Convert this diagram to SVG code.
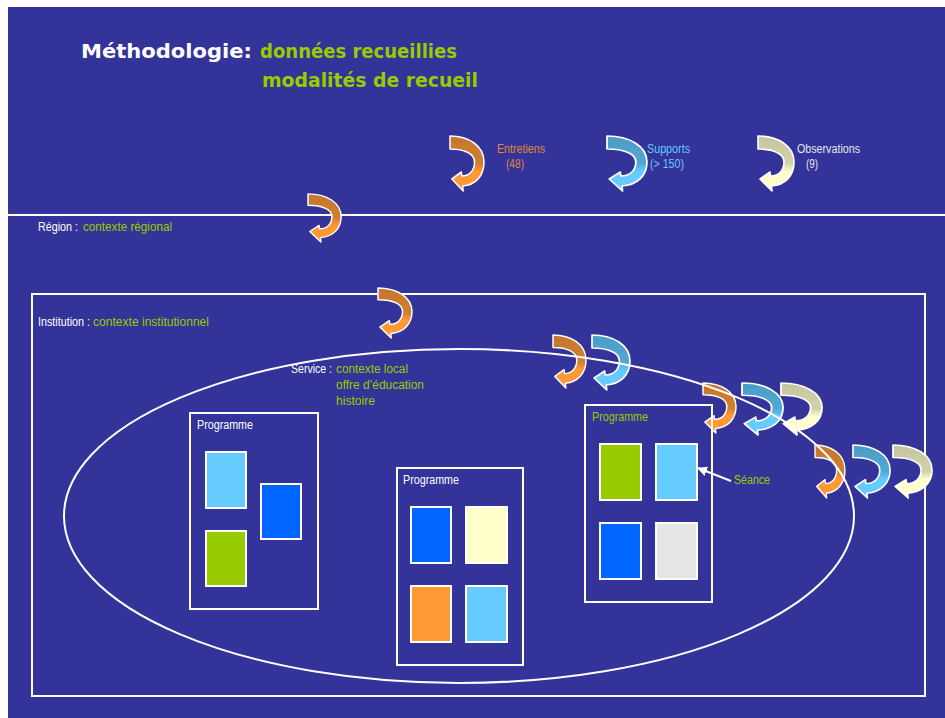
<svg xmlns="http://www.w3.org/2000/svg" xmlns:xlink="http://www.w3.org/1999/xlink" width="945" height="718" viewBox="0 0 945 718">
<style>
.t{font-family:"Liberation Sans",Arial,sans-serif;font-size:12.5px}
.w{fill:#ffffff}
.g{fill:#99cc00}
.title{font-family:"DejaVu Sans",Verdana,sans-serif;font-weight:bold;font-size:20px}
.box{fill:none;stroke:#ffffff;stroke-width:2}
.card{stroke:#ffffff;stroke-width:2}
.ln{fill:none;stroke:#ffffff;stroke-width:2}
.arr{stroke:#ffffff;stroke-width:1.6;stroke-linejoin:round}
</style>
<defs>
<linearGradient id="gO" x1="0" y1="0" x2="0" y2="1">
<stop offset="0" stop-color="#c4772d"/><stop offset="0.5" stop-color="#d07f2e"/><stop offset="0.65" stop-color="#ff9933"/><stop offset="1" stop-color="#ff9933"/>
</linearGradient>
<linearGradient id="gB" x1="0" y1="0" x2="0" y2="1">
<stop offset="0" stop-color="#4b9cc4"/><stop offset="0.5" stop-color="#52a8d3"/><stop offset="0.65" stop-color="#66ccff"/><stop offset="1" stop-color="#66ccff"/>
</linearGradient>
<linearGradient id="gC" x1="0" y1="0" x2="0" y2="1">
<stop offset="0" stop-color="#c4c4a0"/><stop offset="0.5" stop-color="#d2d2aa"/><stop offset="0.65" stop-color="#ffffcc"/><stop offset="1" stop-color="#ffffcc"/>
</linearGradient>
<path id="ca" d="M0 1 C20 1 36 11 36 27 C36 41 27 50 13.5 51 L14 56 L2 44 L12 37 L12.5 41 C21 41 26 35 26 27 C26 19 16 14 0 14 Z"/>
<marker id="mh" viewBox="0 0 10 10" refX="9" refY="5" markerWidth="10" markerHeight="10" markerUnits="userSpaceOnUse" orient="auto">
<path d="M0 0 L10 5 L0 10 Z" fill="#ffffff"/>
</marker>
</defs>

<rect x="8" y="7" width="937" height="711" fill="#333399"/>
<line x1="8" y1="215" x2="945" y2="215" stroke="#ffffff" stroke-width="2"/>

<g id="title">
<text class="title w" x="81" y="58" textLength="171" lengthAdjust="spacingAndGlyphs">Méthodologie:</text>
<text class="title g" x="260" y="58" textLength="197" lengthAdjust="spacingAndGlyphs">données recueillies</text>
<text class="title g" x="262" y="87" textLength="216" lengthAdjust="spacingAndGlyphs">modalités de recueil</text>
</g>

<g id="legend">
<use href="#ca" class="arr" fill="url(#gO)" transform="translate(450 135) scale(0.944 1)"/>
<text class="t" fill="#e0883a" x="497" y="153" textLength="48" lengthAdjust="spacingAndGlyphs">Entretiens</text>
<text class="t" fill="#e0883a" x="506" y="168" textLength="18" lengthAdjust="spacingAndGlyphs">(48)</text>
<use href="#ca" class="arr" fill="url(#gB)" transform="translate(607 135) scale(1.11 1)"/>
<text class="t" fill="#66ccff" x="647" y="153" textLength="43" lengthAdjust="spacingAndGlyphs">Supports</text>
<text class="t" fill="#66ccff" x="650" y="168" textLength="34" lengthAdjust="spacingAndGlyphs">(&gt; 150)</text>
<use href="#ca" class="arr" fill="url(#gC)" transform="translate(758 135) scale(1 1)"/>
<text class="t" fill="#e6e6e6" x="797" y="153" textLength="63" lengthAdjust="spacingAndGlyphs">Observations</text>
<text class="t" fill="#e6e6e6" x="806" y="168" textLength="12" lengthAdjust="spacingAndGlyphs">(9)</text>
</g>

<g id="region">
<text class="t w" x="38" y="231" textLength="40" lengthAdjust="spacingAndGlyphs">Région :</text>
<text class="t g" x="83" y="231" textLength="89" lengthAdjust="spacingAndGlyphs">contexte régional</text>
<use href="#ca" class="arr" fill="url(#gO)" transform="translate(308 193) scale(0.92 0.875)"/>
</g>

<g id="institution">
<rect class="box" x="32" y="294" width="893" height="402"/>
<text class="t w" x="38" y="326" textLength="52" lengthAdjust="spacingAndGlyphs">Institution :</text>
<text class="t g" x="93" y="326" textLength="116" lengthAdjust="spacingAndGlyphs">contexte institutionnel</text>
<use href="#ca" class="arr" fill="url(#gO)" transform="translate(378 287) scale(0.944 0.91)"/>
</g>

<g id="service-arrows">
<use href="#ca" class="arr" fill="url(#gO)" transform="translate(553 334) scale(0.917 0.964)"/>
<use href="#ca" class="arr" fill="url(#gB)" transform="translate(592 334) scale(1.055 1)"/>
<use href="#ca" class="arr" fill="url(#gO)" transform="translate(703 382) scale(0.917 0.91)"/>
<use href="#ca" class="arr" fill="url(#gB)" transform="translate(742 382) scale(1.14 0.946)"/>
<use href="#ca" class="arr" fill="url(#gC)" transform="translate(781 382) scale(1.14 0.946)"/>
<use href="#ca" class="arr" fill="url(#gO)" transform="translate(815 444) scale(0.833 0.964)"/>
<use href="#ca" class="arr" fill="url(#gB)" transform="translate(853 444) scale(1.03 0.964)"/>
<use href="#ca" class="arr" fill="url(#gC)" transform="translate(893 444) scale(1.083 0.964)"/>
</g>

<g id="service">
<ellipse class="ln" cx="459" cy="516" rx="395" ry="167"/>
<text class="t w" x="291" y="373" textLength="41" lengthAdjust="spacingAndGlyphs">Service :</text>
<text class="t g" x="336" y="373" textLength="72" lengthAdjust="spacingAndGlyphs">contexte local</text>
<text class="t g" x="336" y="389" textLength="88" lengthAdjust="spacingAndGlyphs">offre d’éducation</text>
<text class="t g" x="336" y="405" textLength="39" lengthAdjust="spacingAndGlyphs">histoire</text>
</g>

<g id="programme1">
<rect class="box" x="190" y="413" width="128" height="196"/>
<text class="t w" x="197" y="429" textLength="56" lengthAdjust="spacingAndGlyphs">Programme</text>
<rect class="card" x="206" y="452" width="40" height="56" fill="#66ccff"/>
<rect class="card" x="261" y="484" width="40" height="55" fill="#0066ff"/>
<rect class="card" x="206" y="531" width="40" height="55" fill="#99cc00"/>
</g>

<g id="programme2">
<rect class="box" x="397" y="468" width="126" height="197"/>
<text class="t w" x="403" y="484" textLength="56" lengthAdjust="spacingAndGlyphs">Programme</text>
<rect class="card" x="411" y="507" width="40" height="56" fill="#0066ff"/>
<rect class="card" x="466" y="507" width="41" height="56" fill="#ffffcc"/>
<rect class="card" x="411" y="586" width="40" height="56" fill="#ff9933"/>
<rect class="card" x="466" y="586" width="41" height="56" fill="#66ccff"/>
</g>

<g id="programme3">
<rect class="box" x="585" y="405" width="127" height="197"/>
<text class="t g" x="592" y="421" textLength="56" lengthAdjust="spacingAndGlyphs">Programme</text>
<rect class="card" x="600" y="444" width="41" height="56" fill="#99cc00"/>
<rect class="card" x="656" y="444" width="41" height="56" fill="#66ccff"/>
<rect class="card" x="600" y="523" width="41" height="56" fill="#0066ff"/>
<rect class="card" x="656" y="523" width="41" height="56" fill="#e6e6e6"/>
</g>

<g id="seance">
<text class="t g" x="734" y="484" textLength="36" lengthAdjust="spacingAndGlyphs">Séance</text>
</g>

<g id="connectors">
<line x1="731" y1="481" x2="698" y2="468" stroke="#ffffff" stroke-width="2" marker-end="url(#mh)"/>
</g>
</svg>
